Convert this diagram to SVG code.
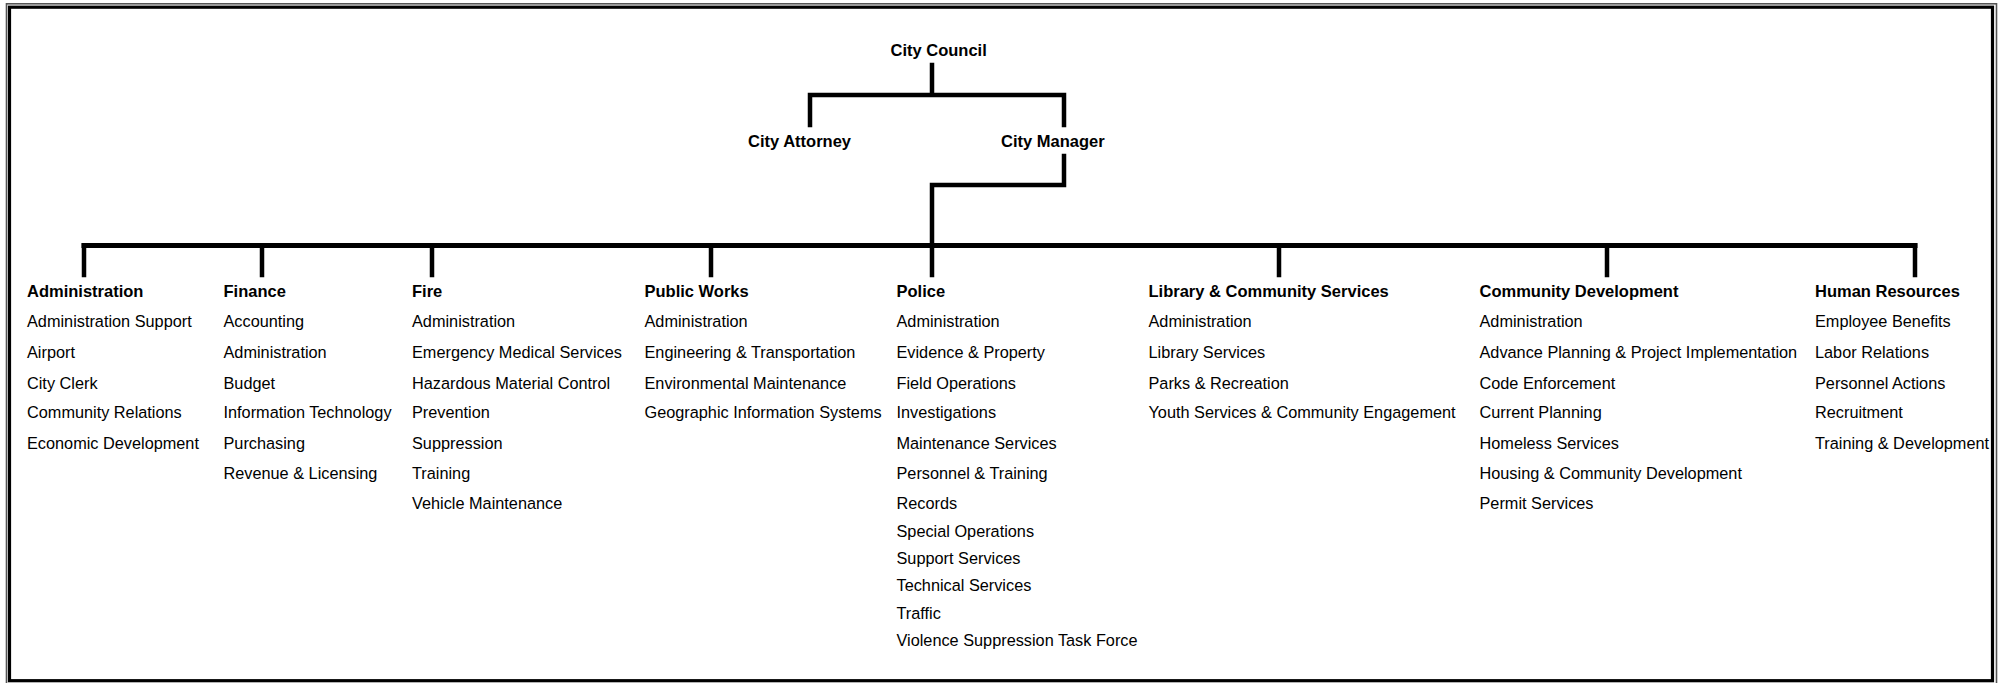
<svg xmlns="http://www.w3.org/2000/svg" width="2005" height="683" viewBox="0 0 2005 683">
<style>
text{font-family:"Liberation Sans",Arial,sans-serif;font-size:16.3px;fill:#000}
.h{font-weight:bold;font-size:16.5px}
.c{fill:none;stroke:#000;stroke-width:4.5;stroke-linecap:square}
.bus{stroke-width:5}
</style>
<rect x="0" y="0" width="2005" height="683" fill="#fff"/>
<rect x="6.5" y="3.8" width="1990" height="690" fill="none" stroke="#555" stroke-width="1.6"/>
<rect x="9.5" y="7.2" width="1983" height="673.5" fill="none" stroke="#000" stroke-width="3.2"/>
<g id="connectors">
<path class="c" d="M932 65V95M810 95H1064M810 95V125M1064 95V125"/>
<path class="c" d="M1064 156V185H932V275"/>
<path class="c bus" d="M84 245.5H1915"/>
<path class="c" d="M84 245.5V275M262 245.5V275M432 245.5V275M711 245.5V275M1279 245.5V275M1607 245.5V275M1915 245.5V275"/>
</g>
<g id="city-council"><text class="h" x="890.5" y="56">City Council</text></g>
<g id="city-attorney"><text class="h" x="748" y="146.5">City Attorney</text></g>
<g id="city-manager"><text class="h" x="1001" y="146.5">City Manager</text></g>
<g id="administration">
<text class="h" x="27" y="296.5">Administration</text>
<text x="27" y="327">Administration Support</text>
<text x="27" y="358">Airport</text>
<text x="27" y="388.5">City Clerk</text>
<text x="27" y="418">Community Relations</text>
<text x="27" y="449">Economic Development</text>
</g>
<g id="finance">
<text class="h" x="223.5" y="296.5">Finance</text>
<text x="223.5" y="327">Accounting</text>
<text x="223.5" y="358">Administration</text>
<text x="223.5" y="388.5">Budget</text>
<text x="223.5" y="418">Information Technology</text>
<text x="223.5" y="449">Purchasing</text>
<text x="223.5" y="479">Revenue &amp; Licensing</text>
</g>
<g id="fire">
<text class="h" x="412" y="296.5">Fire</text>
<text x="412" y="327">Administration</text>
<text x="412" y="358">Emergency Medical Services</text>
<text x="412" y="388.5">Hazardous Material Control</text>
<text x="412" y="418">Prevention</text>
<text x="412" y="449">Suppression</text>
<text x="412" y="479">Training</text>
<text x="412" y="509">Vehicle Maintenance</text>
</g>
<g id="public-works">
<text class="h" x="644.5" y="296.5">Public Works</text>
<text x="644.5" y="327">Administration</text>
<text x="644.5" y="358">Engineering &amp; Transportation</text>
<text x="644.5" y="388.5">Environmental Maintenance</text>
<text x="644.5" y="418">Geographic Information Systems</text>
</g>
<g id="police">
<text class="h" x="896.5" y="296.5">Police</text>
<text x="896.5" y="327">Administration</text>
<text x="896.5" y="358">Evidence &amp; Property</text>
<text x="896.5" y="388.5">Field Operations</text>
<text x="896.5" y="418">Investigations</text>
<text x="896.5" y="449">Maintenance Services</text>
<text x="896.5" y="479">Personnel &amp; Training</text>
<text x="896.5" y="509">Records</text>
<text x="896.5" y="537">Special Operations</text>
<text x="896.5" y="564">Support Services</text>
<text x="896.5" y="591">Technical Services</text>
<text x="896.5" y="619">Traffic</text>
<text x="896.5" y="646">Violence Suppression Task Force</text>
</g>
<g id="library-community-services">
<text class="h" x="1148.5" y="296.5">Library &amp; Community Services</text>
<text x="1148.5" y="327">Administration</text>
<text x="1148.5" y="358">Library Services</text>
<text x="1148.5" y="388.5">Parks &amp; Recreation</text>
<text x="1148.5" y="418">Youth Services &amp; Community Engagement</text>
</g>
<g id="community-development">
<text class="h" x="1479.5" y="296.5">Community Development</text>
<text x="1479.5" y="327">Administration</text>
<text x="1479.5" y="358">Advance Planning &amp; Project Implementation</text>
<text x="1479.5" y="388.5">Code Enforcement</text>
<text x="1479.5" y="418">Current Planning</text>
<text x="1479.5" y="449">Homeless Services</text>
<text x="1479.5" y="479">Housing &amp; Community Development</text>
<text x="1479.5" y="509">Permit Services</text>
</g>
<g id="human-resources">
<text class="h" x="1815" y="296.5">Human Resources</text>
<text x="1815" y="327">Employee Benefits</text>
<text x="1815" y="358">Labor Relations</text>
<text x="1815" y="388.5">Personnel Actions</text>
<text x="1815" y="418">Recruitment</text>
<text x="1815" y="449">Training &amp; Development</text>
</g>
</svg>
